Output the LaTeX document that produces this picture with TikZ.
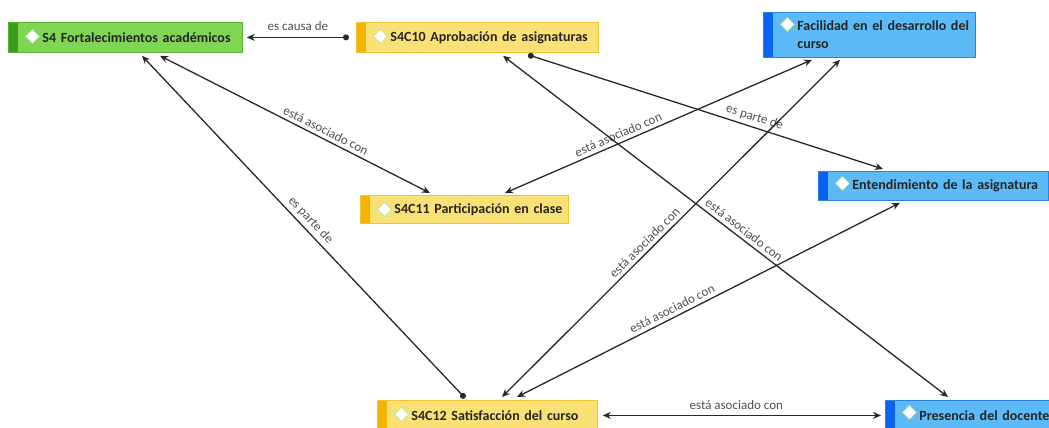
\documentclass[tikz,border=0pt]{standalone}
\usepackage{fontspec}
\setmainfont{Carlito}
\usetikzlibrary{arrows.meta}
\definecolor{gfill}{RGB}{128,214,84}
\definecolor{gline}{RGB}{88,178,48}
\definecolor{gstrip}{RGB}{58,158,28}
\definecolor{yfill}{RGB}{250,225,118}
\definecolor{yline}{RGB}{236,196,52}
\definecolor{ystrip}{RGB}{246,180,0}
\definecolor{bfill}{RGB}{92,186,246}
\definecolor{bline}{RGB}{42,132,222}
\definecolor{bstrip}{RGB}{12,98,240}
\definecolor{diam}{RGB}{180,222,160}
\definecolor{linecol}{RGB}{40,40,40}
\definecolor{lblcol}{RGB}{80,80,80}
\begin{document}
\begin{tikzpicture}[x=1pt, y=-1pt]
  \tikzstyle{concept}=[draw, rectangle, anchor=north west, inner xsep=4pt, inner ysep=0pt, align=left, line width=0.8pt, text=black!85, font=\fontsize{14}{18}\selectfont\bfseries]
  \tikzstyle{greenbox}=[concept, fill=gfill, draw=gline, path picture={
    \fill[gstrip] (path picture bounding box.north west) rectangle ([xshift=10pt]path picture bounding box.south west);
    \draw[diam, fill=white, line width=0.6pt] ([shift={(17pt,-14pt)}]path picture bounding box.north west) -- ++(7pt,7pt) -- ++(7pt,-7pt) -- ++(-7pt,-7pt) -- cycle;}]
  \tikzstyle{yellowbox}=[concept, fill=yfill, draw=yline, path picture={
    \fill[ystrip] (path picture bounding box.north west) rectangle ([xshift=10pt]path picture bounding box.south west);
    \draw[diam, fill=white, line width=0.6pt] ([shift={(17pt,-14pt)}]path picture bounding box.north west) -- ++(7pt,7pt) -- ++(7pt,-7pt) -- ++(-7pt,-7pt) -- cycle;}]
  \tikzstyle{bluebox}=[concept, fill=bfill, draw=bline, path picture={
    \fill[bstrip] (path picture bounding box.north west) rectangle ([xshift=10pt]path picture bounding box.south west);
    \draw[diam, fill=white, line width=0.6pt] ([shift={(17pt,-12pt)}]path picture bounding box.north west) -- ++(7pt,7pt) -- ++(7pt,-7pt) -- ++(-7pt,-7pt) -- cycle;}]
  \tikzstyle{link}=[draw=linecol, line width=1.3pt]
  \tikzstyle{both}=[{Stealth[length=8pt,width=7pt]}-{Stealth[length=8pt,width=7pt]}]
  \tikzstyle{dotarrow}=[{Circle[length=6pt]}-{Stealth[length=8pt,width=7pt]}]
  \tikzstyle{lbl}=[text=lblcol, font=\fontsize{13}{15}\selectfont, inner sep=3.5pt]

\useasboundingbox (0,0) rectangle (1049,428);

\node[greenbox, minimum height=30pt, text width=226pt] (s4) at (8,22) {\hspace*{30pt}S4 Fortalecimientos académicos};

\node[yellowbox, minimum height=30pt, text width=234pt] (s4c10) at (356,22) {\hspace*{30pt}S4C10 Aprobación de asignaturas};

\node[bluebox, minimum height=45pt, text width=204pt] (fac) at (763,12) {\hspace*{30pt}Facilidad en el desarrollo del\\\hspace*{30pt}curso};

\node[yellowbox, minimum height=28pt, text width=200pt] (s4c11) at (360,195) {\hspace*{30pt}S4C11 Participación en clase};

\node[bluebox, minimum height=29pt, text width=222pt] (ent) at (818,171) {\hspace*{30pt}Entendimiento de la asignatura};

\node[yellowbox, minimum height=30pt, text width=212pt] (s4c12) at (377,400) {\hspace*{30pt}S4C12 Satisfacción del curso};

\node[bluebox, minimum height=30pt, text width=172pt] (pres) at (885,400) {\hspace*{30pt}Presencia del docente};

\draw[link, dotarrow] ([xshift=-7pt]s4c10.west) -- ([xshift=4pt]s4.east) node[lbl, above, pos=0.5, yshift=3pt] {es causa de};

\draw[link, both] ([shift={(152pt,-3pt)}]s4.south west) -- ([shift={(70pt,2pt)}]s4c11.north west) node[lbl, above, sloped, pos=0.6] {está asociado con};

\draw[link, dotarrow] ([shift={(88pt,2pt)}]s4c12.north west) -- ([shift={(134pt,-3pt)}]s4.south west) node[lbl, above, sloped, pos=0.5] {es parte de};

\draw[link, both] ([shift={(145pt,2pt)}]s4c11.north west) -- ([shift={(49pt,-2pt)}]fac.south west) node[lbl, above, sloped, pos=0.38] {está asociado con};

\draw[link, dotarrow] ([shift={(172pt,-2pt)}]s4c10.south west) -- ([shift={(65pt,2pt)}]ent.north west) node[lbl, above, sloped, pos=0.63] {es parte de};

\draw[link, both] ([shift={(147pt,-3pt)}]s4c10.south west) -- ([shift={(63pt,3pt)}]pres.north west) node[lbl, above, sloped, pos=0.53] {está asociado con};

\draw[link, both] ([shift={(125pt,3pt)}]s4c12.north west) -- ([shift={(77pt,-2pt)}]fac.south west) node[lbl, above, sloped, pos=0.44] {está asociado con};

\draw[link, both] ([shift={(140pt,3pt)}]s4c12.north west) -- ([shift={(82pt,-2pt)}]ent.south west) node[lbl, above, sloped, pos=0.415] {está asociado con};

\draw[link, both] ([xshift=5pt]s4c12.east) -- ([xshift=-4pt]pres.west) node[lbl, above, pos=0.48, yshift=2pt] {está asociado con};

\end{tikzpicture}
\end{document}
